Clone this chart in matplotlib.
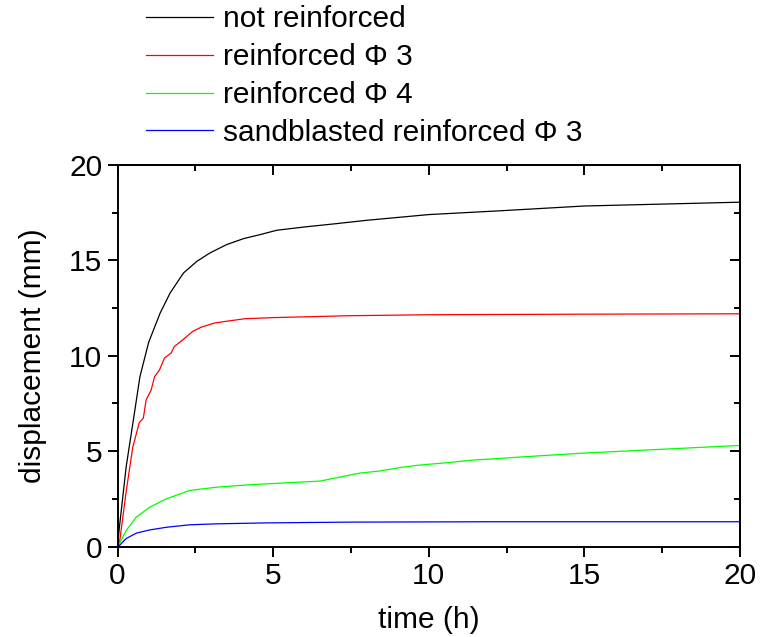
import matplotlib
matplotlib.use("Agg")
import matplotlib.pyplot as plt
from matplotlib.ticker import MultipleLocator

plt.rcParams['font.family'] = ['Liberation Sans', 'DejaVu Sans']

labels = ["not reinforced", "reinforced \u03a6 3", "reinforced \u03a6 4",
          "sandblasted reinforced \u03a6 3"]
colors = ["#000000", "#ff0000", "#00ff00", "#0000ff"]

t_black = [0, 0.06, 0.28, 0.51, 0.72, 1.0, 1.37, 1.69, 2.12, 2.55, 2.97, 3.51,
           4.05, 4.58, 5.12, 6, 7, 8, 10, 12.3, 15, 17.5, 20]
y_black = [0, 1.0, 4.2, 6.64, 8.9, 10.7, 12.24, 13.29, 14.34, 14.95, 15.39, 15.83,
           16.14, 16.35, 16.58, 16.75, 16.92, 17.1, 17.4, 17.6, 17.85, 17.95, 18.05]

t_red = [0, 0.06, 0.28, 0.49, 0.7, 0.83, 0.92, 1.08, 1.19, 1.35, 1.51, 1.72,
         1.83, 2.1, 2.42, 2.69, 3.12, 4.08, 5, 7.46, 10, 15, 20]
y_red = [0, 0.15, 2.9, 5.2, 6.5, 6.73, 7.69, 8.2, 8.9, 9.26, 9.88, 10.14,
         10.49, 10.84, 11.28, 11.5, 11.72, 11.94, 12.0, 12.1, 12.15, 12.18, 12.2]

t_green = [0, 0.06, 0.28, 0.6, 1.03, 1.57, 2.32, 3.17, 4.24, 5.2, 6.5, 7.14,
           7.78, 8.42, 9.07, 9.7, 10.56, 11.4, 12.3, 12.9, 15, 17.5, 20]
y_green = [0, 0.15, 0.84, 1.54, 2.06, 2.5, 2.94, 3.11, 3.24, 3.32, 3.43, 3.64,
           3.85, 3.96, 4.14, 4.27, 4.39, 4.53, 4.62, 4.69, 4.9, 5.1, 5.3]

t_blue = [0, 0.06, 0.28, 0.6, 1.03, 1.57, 2.32, 3.17, 4.78, 7.46, 12, 20]
y_blue = [0, 0.05, 0.42, 0.7, 0.87, 1.01, 1.14, 1.19, 1.24, 1.28, 1.3, 1.3]

series = [(t_black, y_black), (t_red, y_red), (t_green, y_green), (t_blue, y_blue)]

fig = plt.figure(figsize=(7.63, 6.37), dpi=100)
ax = fig.add_axes([0.154, 0.142, 0.816, 0.599])

handles = []
for (tt, yy), c, lab in zip(series, colors, labels):
    h, = ax.plot(tt, yy, color=c, lw=0.9, label=lab)
    handles.append(h)

ax.set_xlim(0, 20)
ax.set_ylim(0, 20)
fs = 21.5
for s in ax.spines.values():
    s.set_linewidth(1.4)
ax.xaxis.set_major_locator(MultipleLocator(5))
ax.xaxis.set_minor_locator(MultipleLocator(2.5))
ax.yaxis.set_major_locator(MultipleLocator(5))
ax.yaxis.set_minor_locator(MultipleLocator(2.5))
ax.tick_params(which='major', direction='out', length=7, width=1.4, labelsize=fs, pad=4)
ax.tick_params(which='minor', direction='out', length=4, width=1.4)

sx = ax.secondary_xaxis('top')
sx.xaxis.set_major_locator(MultipleLocator(5))
sx.xaxis.set_minor_locator(MultipleLocator(2.5))
sx.tick_params(which='major', direction='in', length=7, width=1.4, labeltop=False)
sx.tick_params(which='minor', direction='in', length=4, width=1.4)
sx.spines['top'].set_linewidth(1.4)
sy = ax.secondary_yaxis('right')
sy.yaxis.set_major_locator(MultipleLocator(5))
sy.yaxis.set_minor_locator(MultipleLocator(2.5))
sy.tick_params(which='major', direction='in', length=7, width=1.4, labelright=False)
sy.tick_params(which='minor', direction='in', length=4, width=1.4)
sy.spines['right'].set_linewidth(1.4)

ax.set_xlabel("time (h)", fontsize=fs, labelpad=12)
ax.set_ylabel("displacement (mm)", fontsize=fs, labelpad=16)

fig.legend(handles=handles, labels=labels, loc='upper left',
           bbox_to_anchor=(0.183, 1.001), frameon=False, fontsize=fs,
           handlelength=2.25, handletextpad=0.35, labelspacing=0.33,
           borderaxespad=0, borderpad=0.2)

fig.savefig("out.png", dpi=100)
